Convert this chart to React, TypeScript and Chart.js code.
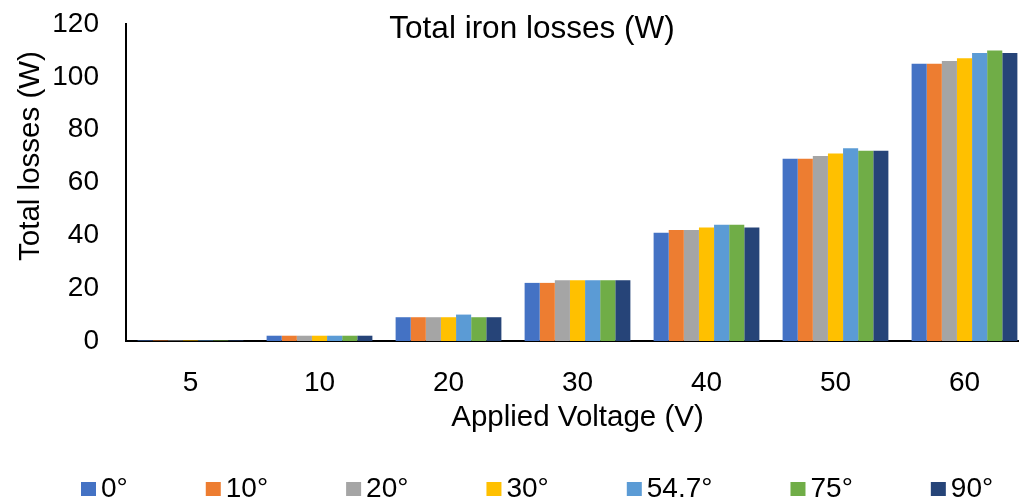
import React, { useEffect, useRef } from "react";
import { Chart, registerables } from "chart.js";

Chart.register(...registerables);

const categories = ["5", "10", "20", "30", "40", "50", "60"];
const seriesLabels = ["0°", "10°", "20°", "30°", "54.7°", "75°", "90°"];
const seriesColors = ["#4472C4", "#ED7D31", "#A5A5A5", "#FFC000", "#5B9BD5", "#70AD47", "#264478"];
const s0 = [0.2, 2, 9, 22, 41, 69, 105];
const s10 = [0.2, 2, 9, 22, 42, 69, 105];
const s20 = [0.2, 2, 9, 23, 42, 70, 106];
const s30 = [0.2, 2, 9, 23, 43, 71, 107];
const s547 = [0.2, 2, 10, 23, 44, 73, 109];
const s75 = [0.2, 2, 9, 23, 44, 72, 110];
const s90 = [0.2, 2, 9, 23, 43, 72, 109];
const seriesValues = [s0, s10, s20, s30, s547, s75, s90];
const yTicks = [0, 20, 40, 60, 80, 100, 120];

const chartTitle = "Total iron losses (W)";
const xTitle = "Applied Voltage (V)";
const yTitle = "Total losses (W)";
const FONT = "'Liberation Sans', Arial, sans-serif";

const textPlugin = {
  id: "textPlugin",
  afterDraw(chart: any) {
    const ctx = chart.ctx;
    const area = chart.chartArea;
    ctx.save();
    ctx.fillStyle = "#000";
    ctx.textBaseline = "middle";
    // title
    ctx.font = `31.5px ${FONT}`;
    ctx.textAlign = "center";
    ctx.fillText(chartTitle, 532, 29);
    // x title
    ctx.font = `29.5px ${FONT}`;
    ctx.fillText(xTitle, (area.left + area.right) / 2, 418);
    // y title
    ctx.save();
    ctx.translate(31, 156);
    ctx.rotate(-Math.PI / 2);
    ctx.fillText(yTitle, 0, 0);
    ctx.restore();
    // legend
    ctx.font = `28px ${FONT}`;
    ctx.textAlign = "left";
    let x = 81;
    const y = 489;
    seriesLabels.forEach((lab, i) => {
      ctx.fillStyle = seriesColors[i];
      ctx.fillRect(x, y - 7, 15, 14);
      ctx.fillStyle = "#000";
      ctx.fillText(lab, x + 20, y);
      const w = ctx.measureText(lab).width;
      x += 15 + 5 + w + 78;
    });
    ctx.restore();
  },
};

export default function App() {
  const ref = useRef<HTMLCanvasElement | null>(null);
  useEffect(() => {
    if (!ref.current) return;
    const chart = new Chart(ref.current, {
      type: "bar",
      data: {
        labels: categories,
        datasets: seriesLabels.map((lab, i) => ({
          label: lab,
          data: seriesValues[i],
          backgroundColor: seriesColors[i],
          borderWidth: 0,
          barPercentage: 1,
          categoryPercentage: 0.82,
        })),
      },
      options: {
        animation: false,
        responsive: false,
        devicePixelRatio: 1,
        layout: { padding: { top: 24, left: 0, right: 0, bottom: 0 } },
        plugins: {
          legend: { display: false },
          title: { display: false },
          tooltip: { enabled: false },
        },
        scales: {
          x: {
            grid: { display: false, drawTicks: false },
            border: { display: true, color: "#000", width: 2 },
            ticks: { color: "#000", font: { size: 28, family: FONT }, padding: 25 },
            afterFit: (s: any) => {
              s.height = 161;
              s.paddingLeft = 0;
              s.paddingRight = 0;
            },
          },
          y: {
            min: 0,
            max: 120,
            grid: { display: false, drawTicks: false },
            border: { display: true, color: "#000", width: 2 },
            afterBuildTicks: (s: any) => {
              s.ticks = yTicks.map((v) => ({ value: v }));
            },
            ticks: { color: "#000", font: { size: 28, family: FONT }, padding: 27 },
            afterFit: (s: any) => {
              s.width = 126;
              s.paddingTop = 0;
              s.paddingBottom = 0;
            },
          },
        },
      },
      plugins: [textPlugin],
    });
    return () => chart.destroy();
  }, []);
  return (
    <div
      style={{
        position: "fixed",
        left: 0,
        top: 0,
        width: 1019,
        height: 502,
        overflow: "hidden",
        background: "#fff",
      }}
    >
      <canvas ref={ref} width={1029} height={502} style={{ display: "block", width: 1029, height: 502 }} />
    </div>
  );
}
